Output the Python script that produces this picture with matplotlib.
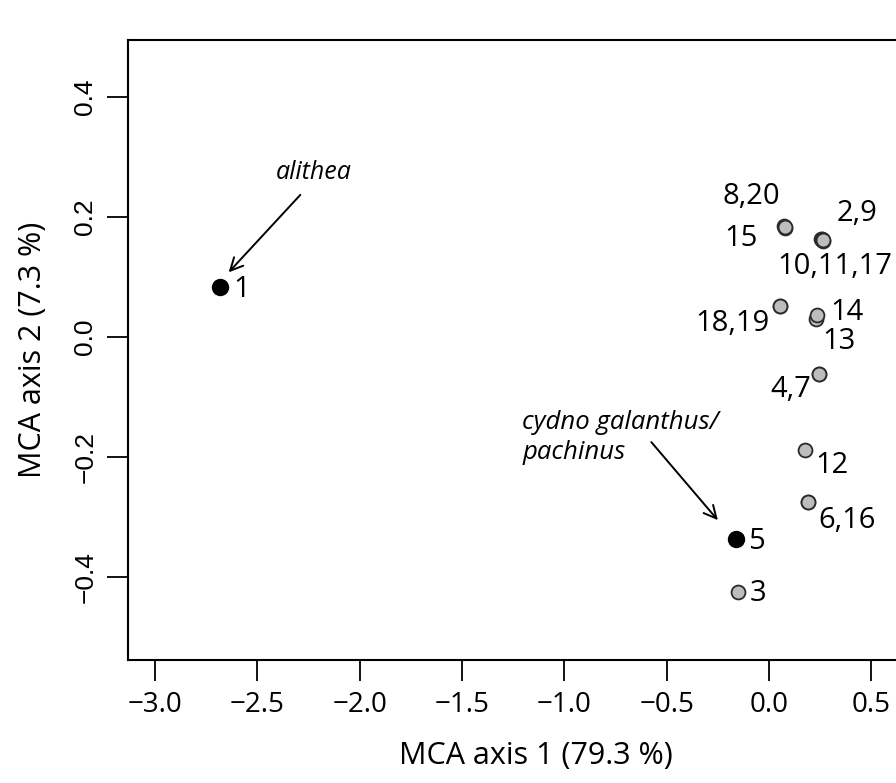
import matplotlib
matplotlib.use("Agg")
import matplotlib.pyplot as plt

# MCA scores of the individuals (axis 1, axis 2); several overlap
ind_id = [1, 5, 3, 8, 20, 15, 2, 9, 10, 11, 17, 18, 19, 13, 14, 4, 7, 12, 6, 16]
mca1 = [-2.682, -0.162, -0.152,
        0.074, 0.080, 0.077,
        0.256, 0.262, 0.259, 0.261, 0.265,
        0.053, 0.053,
        0.228, 0.235,
        0.244, 0.244,
        0.175,
        0.190, 0.190]
mca2 = [0.083, -0.337, -0.425,
        0.185, 0.181, 0.183,
        0.163, 0.160, 0.164, 0.161, 0.162,
        0.052, 0.052,
        0.030, 0.036,
        -0.062, -0.062,
        -0.188,
        -0.275, -0.275]
pure = [1, 5]  # reference taxa drawn in black

# point labels, the individual each one sits by
lab_text = ["1", "5", "3", "8,20", "15", "2,9", "10,11,17", "18,19",
            "14", "13", "4,7", "12", "6,16"]
lab_ref = [1, 5, 3, 8, 8, 2, 2, 18, 14, 14, 4, 12, 6]
# offsets in pixels (dx, dy up) and alignment
lab_off = [(13, -2), (12, -2), (12, -1), (-33, 30), (-26, -12), (15, 26), (-44, -27),
           (-10, -18), (13, 3), (5, -26), (-8, -15), (10, -16), (10, -18)]
lab_ha = ["left", "left", "left", "center", "right", "left", "left", "right",
          "left", "left", "right", "left", "left"]

W, H = 896, 783
fig = plt.figure(figsize=(W / 100, H / 100), dpi=100)
# the right edge of the original plot is cut off by the figure
ax = fig.add_axes([128 / W, (H - 660) / H, 815 / W, 620 / H])
ax.set_xlim(-3.132, 0.85)
ax.set_ylim(-0.538, 0.495)

for i, (x, y) in zip(ind_id, zip(mca1, mca2)):
    if i in pure:
        ax.plot(x, y, "o", ms=11.5, mfc="black", mec="black", zorder=3)
    else:
        ax.plot(x, y, "o", ms=10, mfc="#bdbdbd", mec="#2a2a2a", mew=1.3, zorder=3)

lab_font = dict(family="Open Sans", size=21)
for t, r, (dx, dy), ha in zip(lab_text, lab_ref, lab_off, lab_ha):
    k = ind_id.index(r)
    ax.annotate(t, (mca1[k], mca2[k]), xytext=(dx * 0.72, dy * 0.72),
                textcoords="offset points", ha=ha, va="center", **lab_font)

arrow = dict(arrowstyle="->,head_length=0.9,head_width=0.45", lw=1.4, color="black",
             shrinkA=0, shrinkB=0)
ax.annotate("", xy=(-2.64, 0.108), xytext=(-2.29, 0.237), arrowprops=arrow)
ax.text(-2.225, 0.275, "alithea", family="Open Sans", style="italic", size=18,
        ha="center", va="center")
ax.annotate("", xy=(-0.25, -0.305), xytext=(-0.575, -0.175), arrowprops=arrow)
ax.text(-1.205, -0.143, "cydno galanthus/", family="Open Sans", style="italic",
        size=18.5, ha="left", va="center")
ax.text(-1.205, -0.193, "pachinus", family="Open Sans", style="italic",
        size=18.5, ha="left", va="center")

ax.set_xticks([-3.0, -2.5, -2.0, -1.5, -1.0, -0.5, 0.0, 0.5])
ax.set_xticklabels(["\u22123.0", "\u22122.5", "\u22122.0", "\u22121.5",
                    "\u22121.0", "\u22120.5", "0.0", "0.5"], family="Open Sans", size=20)
ax.set_yticks([-0.4, -0.2, 0.0, 0.2, 0.4])
ax.set_yticklabels(["\u22120.4", "\u22120.2", "0.0", "0.2", "0.4"],
                   family="Liberation Sans", size=19, rotation=90, va="center")
ax.tick_params(length=15, width=1.3, pad=7)
for s in ax.spines.values():
    s.set_linewidth(1.5)

ax.set_xlabel("MCA axis 1 (79.3 %)", family="Open Sans", size=22, labelpad=16)
ax.set_ylabel("MCA axis 2 (7.3 %)", family="Open Sans", size=22, labelpad=18)

fig.savefig("out.png", dpi=100)
